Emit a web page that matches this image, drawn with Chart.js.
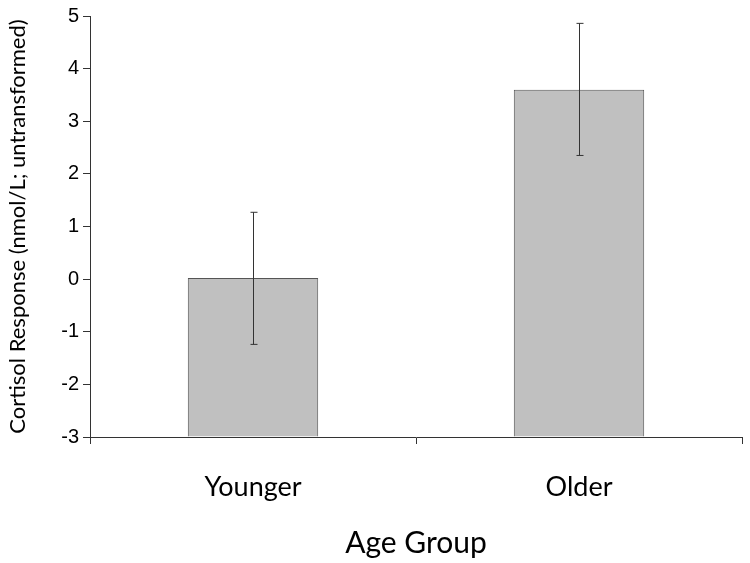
<!DOCTYPE html>
<html>
<head>
<meta charset="utf-8">
<script src="https://cdn.jsdelivr.net/npm/chart.js@4"></script>
<style>
  html, body { margin: 0; padding: 0; background: #fff; }
  #wrap { width: 750px; height: 563px; }
</style>
</head>
<body>
<div id="wrap"><canvas id="chart" width="750" height="563"></canvas></div>
<script>
// Data
const groups = ["Younger", "Older"];
const cortisol = [0.02, 3.6];
const errLow = [-1.24, 2.35];
const errHigh = [1.27, 4.86];
const yTicks = [-3, -2, -1, 0, 1, 2, 3, 4, 5];

const axisColor = "#333";

// Draw error bars with the chart's own scales
const errorBars = {
  id: "errorBars",
  afterDatasetsDraw(chart) {
    const { ctx, scales: { x, y } } = chart;
    ctx.save();
    ctx.strokeStyle = "#333";
    ctx.lineWidth = 1;
    groups.forEach((g, i) => {
      const px = Math.round(x.getPixelForValue(i)) + 0.5;
      const top = y.getPixelForValue(errHigh[i]);
      const bot = y.getPixelForValue(errLow[i]);
      ctx.beginPath();
      ctx.moveTo(px, top);
      ctx.lineTo(px, bot);
      ctx.moveTo(px - 3, top);
      ctx.lineTo(px + 4, top);
      ctx.moveTo(px - 3, bot);
      ctx.lineTo(px + 4, bot);
      ctx.stroke();
    });
    ctx.restore();
  }
};

new Chart(document.querySelector("#chart"), {
  type: "bar",
  data: {
    labels: groups,
    datasets: [{
      data: cortisol,
      base: yTicks[0],
      backgroundColor: "#c0c0c0",
      borderColor: "#555",
      borderWidth: 1,
      categoryPercentage: 0.4,
      barPercentage: 1
    }]
  },
  options: {
    responsive: false,
    animation: false,
    layout: { padding: { left: 0, right: 8, top: 16, bottom: 0 } },
    plugins: { legend: { display: false }, tooltip: { enabled: false } },
    scales: {
      x: {
        offset: true,
        grid: { offset: true, drawOnChartArea: false, tickLength: 7, color: axisColor },
        border: { color: axisColor },
        ticks: { color: "#000", padding: 27, font: { family: "Lato", size: 27 } },
        title: {
          display: true,
          text: "Age Group",
          color: "#000",
          padding: { top: 0, bottom: 2 },
          font: { family: "Lato", size: 30 }
        },
        afterFit: scale => { scale.height = 126; }
      },
      y: {
        min: -3,
        max: 5,
        afterBuildTicks: scale => { scale.ticks = yTicks.map(v => ({ value: v })); },
        grid: { drawOnChartArea: false, tickLength: 7, color: axisColor },
        border: { color: axisColor },
        ticks: { color: "#000", padding: 4, font: { family: "Liberation Sans", size: 20 } },
        title: {
          display: true,
          text: "Cortisol Response (nmol/L; untransformed)",
          color: "#000",
          padding: 5,
          font: { family: "Lato", size: 22 }
        },
        afterFit: scale => { scale.width = 90; }
      }
    }
  },
  plugins: [errorBars]
});
</script>
</body>
</html>
